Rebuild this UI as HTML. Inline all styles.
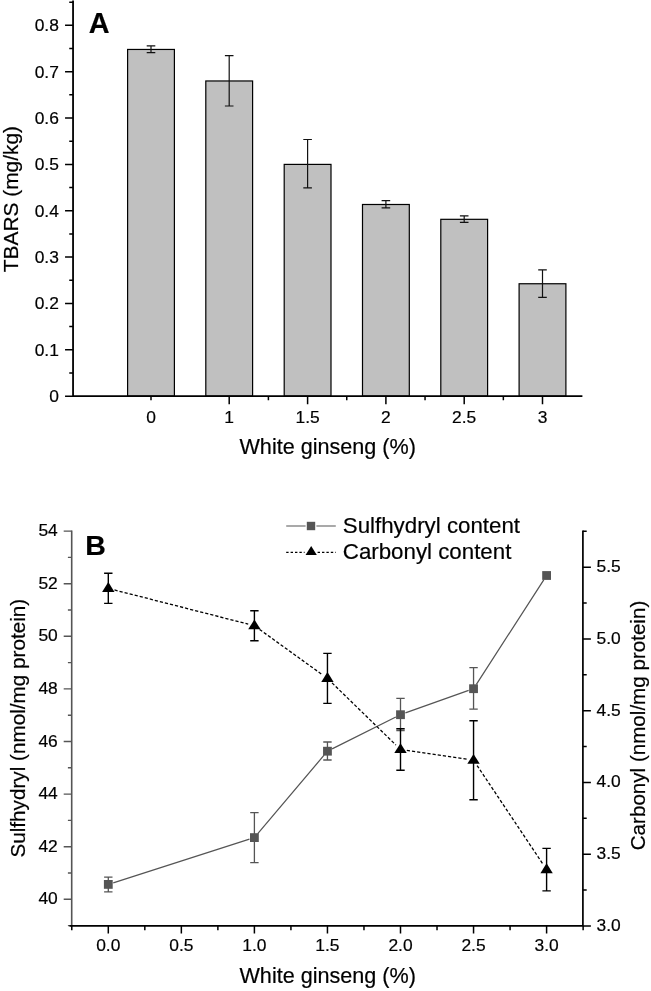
<!DOCTYPE html>
<html lang="en"><head><meta charset="utf-8"><title>Figure</title>
<style>html,body{margin:0;padding:0;background:#fff}svg{display:block}text{font-family:"Liberation Sans",sans-serif;fill:#000;stroke:#000;stroke-width:0.2px}</style></head><body>
<svg width="651" height="991" viewBox="0 0 651 991">
<rect width="651" height="991" fill="#fff"/>
<g id="panelA">
<rect x="127.60" y="49.45" width="46.80" height="346.70" fill="#c0c0c0" stroke="#000" stroke-width="1.2"/>
<rect x="205.80" y="80.97" width="46.80" height="315.18" fill="#c0c0c0" stroke="#000" stroke-width="1.2"/>
<rect x="284.20" y="164.40" width="46.80" height="231.75" fill="#c0c0c0" stroke="#000" stroke-width="1.2"/>
<rect x="362.50" y="204.49" width="46.80" height="191.66" fill="#c0c0c0" stroke="#000" stroke-width="1.2"/>
<rect x="440.80" y="219.32" width="46.80" height="176.83" fill="#c0c0c0" stroke="#000" stroke-width="1.2"/>
<rect x="519.10" y="283.75" width="46.80" height="112.40" fill="#c0c0c0" stroke="#000" stroke-width="1.2"/>
<path d="M151.00 45.90V52.60M146.70 45.90H155.30M146.70 52.60H155.30" stroke="#111" stroke-width="1.2" fill="none"/>
<path d="M229.20 55.70V106.00M224.90 55.70H233.50M224.90 106.00H233.50" stroke="#111" stroke-width="1.2" fill="none"/>
<path d="M307.60 139.50V187.80M303.30 139.50H311.90M303.30 187.80H311.90" stroke="#111" stroke-width="1.2" fill="none"/>
<path d="M385.90 200.70V207.90M381.60 200.70H390.20M381.60 207.90H390.20" stroke="#111" stroke-width="1.2" fill="none"/>
<path d="M464.20 215.90V222.30M459.90 215.90H468.50M459.90 222.30H468.50" stroke="#111" stroke-width="1.2" fill="none"/>
<path d="M542.50 269.80V297.30M538.20 269.80H546.80M538.20 297.30H546.80" stroke="#111" stroke-width="1.2" fill="none"/>
<path d="M73.05 1.5V396.15H581.5" stroke="#000" stroke-width="1.8" fill="none" stroke-linecap="square"/>
<path d="M73.05 396.15h-8M73.05 349.80h-8M73.05 303.45h-8M73.05 257.10h-8M73.05 210.75h-8M73.05 164.40h-8M73.05 118.05h-8M73.05 71.70h-8M73.05 25.35h-8M73.05 372.97h-3.8M73.05 326.62h-3.8M73.05 280.27h-3.8M73.05 233.92h-3.8M73.05 187.57h-3.8M73.05 141.22h-3.8M73.05 94.87h-3.8M73.05 48.52h-3.8M73.05 2.17h-3.8" stroke="#000" stroke-width="1.5" fill="none"/>
<path d="M151.00 396.15v4.2M229.20 396.15v8M307.60 396.15v8M385.90 396.15v8M464.20 396.15v8M542.50 396.15v8M268.40 396.15v4.2M346.75 396.15v4.2M425.05 396.15v4.2M503.35 396.15v4.2" stroke="#000" stroke-width="1.5" fill="none"/>
<text x="58.9" y="401.95" font-size="17.4" text-anchor="end">0</text>
<text x="58.9" y="355.60" font-size="17.4" text-anchor="end">0.1</text>
<text x="58.9" y="309.25" font-size="17.4" text-anchor="end">0.2</text>
<text x="58.9" y="262.90" font-size="17.4" text-anchor="end">0.3</text>
<text x="58.9" y="216.55" font-size="17.4" text-anchor="end">0.4</text>
<text x="58.9" y="170.20" font-size="17.4" text-anchor="end">0.5</text>
<text x="58.9" y="123.85" font-size="17.4" text-anchor="end">0.6</text>
<text x="58.9" y="77.50" font-size="17.4" text-anchor="end">0.7</text>
<text x="58.9" y="31.15" font-size="17.4" text-anchor="end">0.8</text>
<text x="151.00" y="422.6" font-size="17.4" text-anchor="middle">0</text>
<text x="229.20" y="422.6" font-size="17.4" text-anchor="middle">1</text>
<text x="307.60" y="422.6" font-size="17.4" text-anchor="middle">1.5</text>
<text x="385.90" y="422.6" font-size="17.4" text-anchor="middle">2</text>
<text x="464.20" y="422.6" font-size="17.4" text-anchor="middle">2.5</text>
<text x="542.50" y="422.6" font-size="17.4" text-anchor="middle">3</text>
<text x="327.7" y="453.6" font-size="21.6" text-anchor="middle">White ginseng (%)</text>
<text transform="translate(18.0 199.1) rotate(-90)" font-size="20.9" text-anchor="middle">TBARS (mg/kg)</text>
<text x="88.7" y="32.5" font-size="28.8" font-weight="bold">A</text>
</g>
<g id="panelB">
<path d="M113.25 882.81L249.45 839.19M257.76 833.63L324.09 755.17M332.10 748.88L395.85 717.02M405.40 712.96L468.65 690.44M476.37 684.33L543.78 579.87" fill="none" stroke="#555" stroke-width="1.25"/>
<path d="M114.50 589.98L248.20 624.12M259.59 629.44L322.26 674.66M332.04 682.86L395.91 745.04M406.83 750.43L467.22 759.27M477.10 765.52L543.05 864.28" fill="none" stroke="#000" stroke-width="1.3" stroke-dasharray="3.2 2"/>
<path d="M108.30 877.20V891.80M104.10 877.20H112.50M104.10 891.80H112.50" stroke="#555" stroke-width="1.3" fill="none"/>
<path d="M254.40 812.60V862.60M250.20 812.60H258.60M250.20 862.60H258.60" stroke="#555" stroke-width="1.3" fill="none"/>
<path d="M327.45 742.00V760.00M323.25 742.00H331.65M323.25 760.00H331.65" stroke="#555" stroke-width="1.3" fill="none"/>
<path d="M400.50 698.40V730.50M396.30 698.40H404.70M396.30 730.50H404.70" stroke="#555" stroke-width="1.3" fill="none"/>
<path d="M473.55 667.60V709.20M469.35 667.60H477.75M469.35 709.20H477.75" stroke="#555" stroke-width="1.3" fill="none"/>
<path d="M108.30 573.30V603.40M104.10 573.30H112.50M104.10 603.40H112.50" stroke="#000" stroke-width="1.4" fill="none"/>
<path d="M254.40 610.70V640.70M250.20 610.70H258.60M250.20 640.70H258.60" stroke="#000" stroke-width="1.4" fill="none"/>
<path d="M327.45 653.40V703.40M323.25 653.40H331.65M323.25 703.40H331.65" stroke="#000" stroke-width="1.4" fill="none"/>
<path d="M400.50 728.80V770.30M396.30 728.80H404.70M396.30 770.30H404.70" stroke="#000" stroke-width="1.4" fill="none"/>
<path d="M473.55 720.70V799.70M469.35 720.70H477.75M469.35 799.70H477.75" stroke="#000" stroke-width="1.4" fill="none"/>
<path d="M546.60 848.40V890.90M542.40 848.40H550.80M542.40 890.90H550.80" stroke="#000" stroke-width="1.4" fill="none"/>
<rect x="103.90" y="880.00" width="8.8" height="8.8" fill="#555"/>
<rect x="250.00" y="833.20" width="8.8" height="8.8" fill="#555"/>
<rect x="323.05" y="746.80" width="8.8" height="8.8" fill="#555"/>
<rect x="396.10" y="710.30" width="8.8" height="8.8" fill="#555"/>
<rect x="469.15" y="684.30" width="8.8" height="8.8" fill="#555"/>
<rect x="542.20" y="571.10" width="8.8" height="8.8" fill="#555"/>
<path d="M108.30 582.10L114.50 592.00H102.10Z" fill="#000"/>
<path d="M254.40 619.40L260.60 629.30H248.20Z" fill="#000"/>
<path d="M327.45 672.10L333.65 682.00H321.25Z" fill="#000"/>
<path d="M400.50 743.20L406.70 753.10H394.30Z" fill="#000"/>
<path d="M473.55 753.90L479.75 763.80H467.35Z" fill="#000"/>
<path d="M546.60 863.30L552.80 873.20H540.40Z" fill="#000"/>
<path d="M71.7 530.4V925.95" stroke="#555" stroke-width="1.6" fill="none"/>
<path d="M71.7 899.30h-8M71.7 846.70h-8M71.7 794.10h-8M71.7 741.50h-8M71.7 688.90h-8M71.7 636.30h-8M71.7 583.70h-8M71.7 531.10h-8M71.7 925.60h-3.8M71.7 873.00h-3.8M71.7 820.40h-3.8M71.7 767.80h-3.8M71.7 715.20h-3.8M71.7 662.60h-3.8M71.7 610.00h-3.8M71.7 557.40h-3.8" stroke="#555" stroke-width="1.4" fill="none"/>
<path d="M69.5 925.95H582.9V530.4" stroke="#000" stroke-width="1.7" fill="none"/>
<path d="M108.30 925.95v7.5M181.35 925.95v7.5M254.40 925.95v7.5M327.45 925.95v7.5M400.50 925.95v7.5M473.55 925.95v7.5M546.60 925.95v7.5M71.78 925.95v4.2M144.82 925.95v4.2M217.88 925.95v4.2M290.93 925.95v4.2M363.97 925.95v4.2M437.02 925.95v4.2M510.07 925.95v4.2M583.12 925.95v4.2M582.9 925.95h8M582.9 854.20h8M582.9 782.45h8M582.9 710.70h8M582.9 638.95h8M582.9 567.20h8M582.9 890.08h3.8M582.9 818.33h3.8M582.9 746.58h3.8M582.9 674.83h3.8M582.9 603.08h3.8M582.9 531.33h3.8" stroke="#000" stroke-width="1.5" fill="none"/>
<text x="57.8" y="904.45" font-size="17.4" text-anchor="end">40</text>
<text x="57.8" y="851.85" font-size="17.4" text-anchor="end">42</text>
<text x="57.8" y="799.25" font-size="17.4" text-anchor="end">44</text>
<text x="57.8" y="746.65" font-size="17.4" text-anchor="end">46</text>
<text x="57.8" y="694.05" font-size="17.4" text-anchor="end">48</text>
<text x="57.8" y="641.45" font-size="17.4" text-anchor="end">50</text>
<text x="57.8" y="588.85" font-size="17.4" text-anchor="end">52</text>
<text x="57.8" y="536.25" font-size="17.4" text-anchor="end">54</text>
<text x="596.5" y="930.95" font-size="17.4">3.0</text>
<text x="596.5" y="859.20" font-size="17.4">3.5</text>
<text x="596.5" y="787.45" font-size="17.4">4.0</text>
<text x="596.5" y="715.70" font-size="17.4">4.5</text>
<text x="596.5" y="643.95" font-size="17.4">5.0</text>
<text x="596.5" y="572.20" font-size="17.4">5.5</text>
<text x="108.30" y="950.8" font-size="17.4" text-anchor="middle">0.0</text>
<text x="181.35" y="950.8" font-size="17.4" text-anchor="middle">0.5</text>
<text x="254.40" y="950.8" font-size="17.4" text-anchor="middle">1.0</text>
<text x="327.45" y="950.8" font-size="17.4" text-anchor="middle">1.5</text>
<text x="400.50" y="950.8" font-size="17.4" text-anchor="middle">2.0</text>
<text x="473.55" y="950.8" font-size="17.4" text-anchor="middle">2.5</text>
<text x="546.60" y="950.8" font-size="17.4" text-anchor="middle">3.0</text>
<text x="327.7" y="983.3" font-size="21.6" text-anchor="middle">White ginseng (%)</text>
<text transform="translate(24.8 728.2) rotate(-90)" font-size="20.7" text-anchor="middle">Sulfhydryl (nmol/mg protein)</text>
<text transform="translate(645.0 725.5) rotate(-90)" font-size="20.6" text-anchor="middle">Carbonyl (nmol/mg protein)</text>
<text x="85.3" y="555.2" font-size="28.5" font-weight="bold">B</text>
<path d="M286.2 526.0H305.6M316.4 526.0H335.8" stroke="#555" stroke-width="1.2"/>
<rect x="306.8" y="521.8" width="8.4" height="8.4" fill="#555"/>
<path d="M286.2 552.3H304.6M317.6 552.3H335.8" stroke="#000" stroke-width="1.3" stroke-dasharray="2.4 2"/>
<path d="M311.2 545.9L316.8 555.0H305.6Z" fill="#000"/>
<text x="342.8" y="533.0" font-size="22.3">Sulfhydryl content</text>
<text x="342.8" y="558.7" font-size="22.3">Carbonyl content</text>
</g>
</svg></body></html>
